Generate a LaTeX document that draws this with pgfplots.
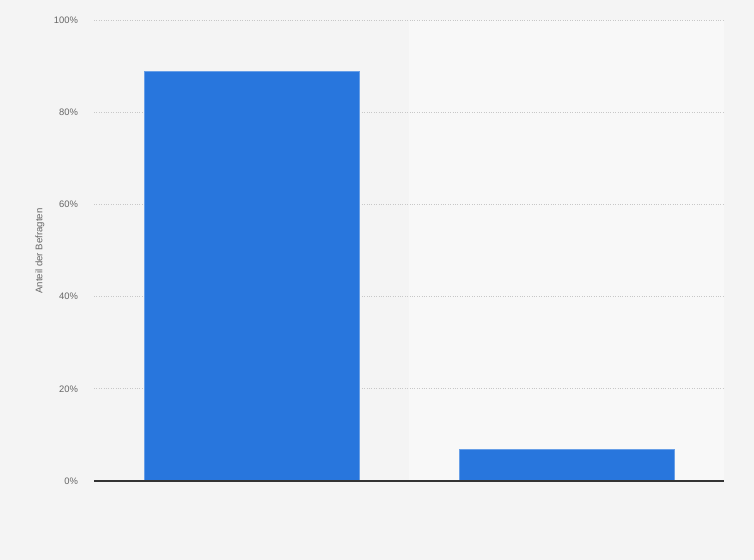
\documentclass[border=0pt]{standalone}
\usepackage{fontspec}
\setmainfont{Liberation Sans}
\usepackage{pgfplots}
\pgfplotsset{compat=1.18}
\usetikzlibrary{backgrounds}
\definecolor{pagebg}{HTML}{F4F4F4}
\definecolor{bandbg}{HTML}{F8F8F8}
\definecolor{barblue}{HTML}{2876DD}
\definecolor{ticktext}{HTML}{666666}
\definecolor{gridcol}{HTML}{C8C8C8}

\begin{document}
\begin{tikzpicture}
\useasboundingbox (0,0) rectangle (754bp,560bp);
\fill[pagebg] (0,0) rectangle (754bp,560bp);
\begin{axis}[
    at={(94bp,79bp)}, anchor=south west,
    scale only axis,
    width=630bp, height=461bp,
    xmin=-0.5, xmax=1.5,
    ymin=0, ymax=100,
    ytick={0,20,40,60,80,100},
    yticklabel={\pgfmathprintnumber{\tick}\%},
    xtick=\empty,
    axis line style={draw=none},
    tick style={draw=none},
    ymajorgrids,
    grid style={gridcol, dotted, line width=0.6pt},
    yticklabel style={font=\fontsize{9.4bp}{11bp}\selectfont, text=ticktext, xshift=-12.5bp},
    /pgf/number format/assume math mode=true,
    ybar, bar width=215bp,
    clip=false,
]
\begin{pgfonlayer}{background}
\fill[bandbg] (axis cs:0.5,0) rectangle (axis cs:1.5,100);
\end{pgfonlayer}
\addplot[fill=barblue, draw=barblue!70!white, line width=0.5pt] coordinates {(0,88.8) (1,6.8)};
\draw[color=black!80, line width=1.3pt] (axis cs:-0.5,0) -- (axis cs:1.5,0);
\node[rotate=90, anchor=center, text=ticktext, font=\fontsize{9.6bp}{11bp}\selectfont]
    at ([xshift=-54bp,yshift=-0.5bp]rel axis cs:0,0.5) {Anteil der Befragten};
\end{axis}
\end{tikzpicture}
\end{document}
